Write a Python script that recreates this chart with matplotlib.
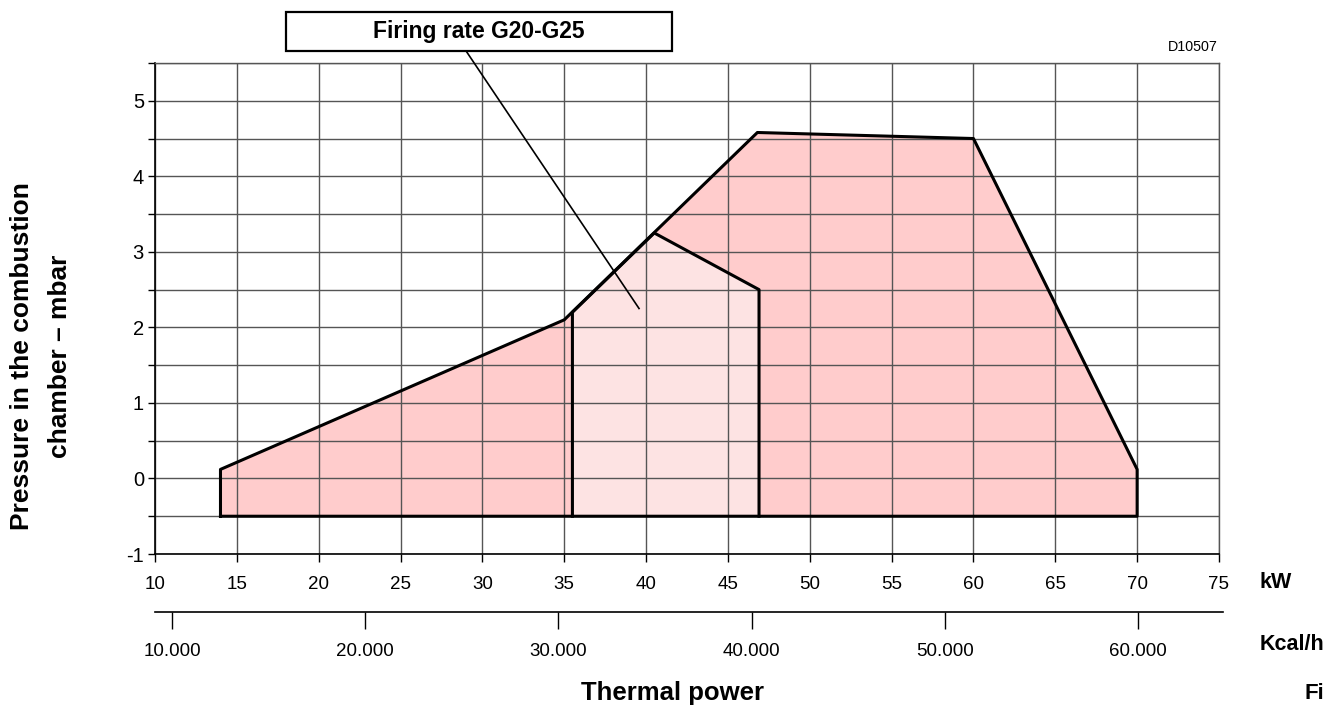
import matplotlib
matplotlib.use("Agg")
import matplotlib.pyplot as plt
from matplotlib.patches import Polygon, Rectangle

plt.rcParams['font.family'] = ['Liberation Sans', 'DejaVu Sans']

# working field of the burner (kW, mbar)
outer_kw = [14, 14, 35, 46.8, 60, 70, 70]
outer_mbar = [-0.5, 0.12, 2.1, 4.58, 4.5, 0.12, -0.5]

# firing rate G20-G25
inner_kw = [35.5, 35.5, 40.5, 46.9, 46.9]
inner_mbar = [-0.5, 2.2, 3.25, 2.5, -0.5]

kw_ticks = [10, 15, 20, 25, 30, 35, 40, 45, 50, 55, 60, 65, 70, 75]
mbar_ticks = [-1, -0.5, 0, 0.5, 1, 1.5, 2, 2.5, 3, 3.5, 4, 4.5, 5, 5.5]
mbar_labels = ['-1', '', '0', '', '1', '', '2', '', '3', '', '4', '', '5', '']
kcal_ticks = [10000, 20000, 30000, 40000, 50000, 60000]
kcal_labels = ['10.000', '20.000', '30.000', '40.000', '50.000', '60.000']

fig = plt.figure(figsize=(13.26, 7.07), dpi=100)
ax = fig.add_axes([0.1169, 0.2164, 0.8024, 0.6945])

ax.set_xlim(10, 75)
ax.set_ylim(-1, 5.5)
ax.set_xticks(kw_ticks)
ax.set_xticklabels([str(v) for v in kw_ticks], fontsize=13.5)
ax.set_yticks(mbar_ticks)
ax.set_yticklabels(mbar_labels, fontsize=14.5)
ax.tick_params(axis='x', length=6, width=1, pad=10)
ax.tick_params(axis='y', length=5, width=1, pad=3)
ax.grid(False)
for side in ['top', 'right']:
    ax.spines[side].set_color('#555555')
    ax.spines[side].set_linewidth(1.0)
for side in ['left', 'bottom']:
    ax.spines[side].set_color('black')
    ax.spines[side].set_linewidth(1.2)

outer = Polygon(list(zip(outer_kw, outer_mbar)), closed=True,
                facecolor='#FFCCCC', edgecolor='none', zorder=1)
inner = Polygon(list(zip(inner_kw, inner_mbar)), closed=True,
                facecolor='#FDE3E3', edgecolor='none', zorder=1.5)
ax.add_patch(outer)
ax.add_patch(inner)
# grid above fills
for gx in kw_ticks:
    ax.axvline(gx, color='#555555', linewidth=1.0, zorder=2)
for gy in mbar_ticks:
    ax.axhline(gy, color='#555555', linewidth=1.0, zorder=2)
ax.plot(outer_kw + [outer_kw[0]], outer_mbar + [outer_mbar[0]], color='black', lw=2.2, zorder=3)
ax.plot(inner_kw, inner_mbar, color='black', lw=2.2, zorder=3)

# label box with leader line
ax.add_patch(Rectangle((18.0, 5.66), 23.58, 0.52, facecolor='white', edgecolor='black',
                       linewidth=1.6, clip_on=False, zorder=5))
ax.text(29.79, 5.92, 'Firing rate G20-G25', fontsize=16.5, fontweight='bold',
        ha='center', va='center', zorder=6, clip_on=False)
ax.plot([29.0, 39.57], [5.66, 2.25], color='black', lw=1.2, clip_on=False, zorder=4)

# second scale in Kcal/h
ax2 = fig.add_axes([0.1169, 0.1344, 0.8054, 0.0001])
ax2.set_xlim(9120, 64400)
ax2.set_yticks([])
for side in ['top', 'left', 'right']:
    ax2.spines[side].set_visible(False)
ax2.spines['bottom'].set_linewidth(1.2)
ax2.set_xticks(kcal_ticks)
ax2.set_xticklabels(kcal_labels, fontsize=13.5)
ax2.tick_params(axis='x', length=12, width=1, pad=10)
ax2.patch.set_visible(False)

fig.text(0.031, 0.4965, 'Pressure in the combustion\nchamber \u2013 mbar', rotation=90,
         fontsize=19, fontweight='bold', ha='center', va='center', linespacing=1.75)
fig.text(0.5075, 0.0198, 'Thermal power', fontsize=18.5, fontweight='bold', ha='center', va='center')
fig.text(0.9502, 0.1768, 'kW', fontsize=15.5, fontweight='bold', ha='left', va='center')
fig.text(0.9502, 0.0877, 'Kcal/h', fontsize=15.5, fontweight='bold', ha='left', va='center')
fig.text(0.984, 0.0198, 'Fi', fontsize=16, fontweight='bold', ha='left', va='center')
fig.text(0.9186, 0.9335, 'D10507', fontsize=10.3, ha='right', va='center')

fig.savefig('out.png', dpi=100)
